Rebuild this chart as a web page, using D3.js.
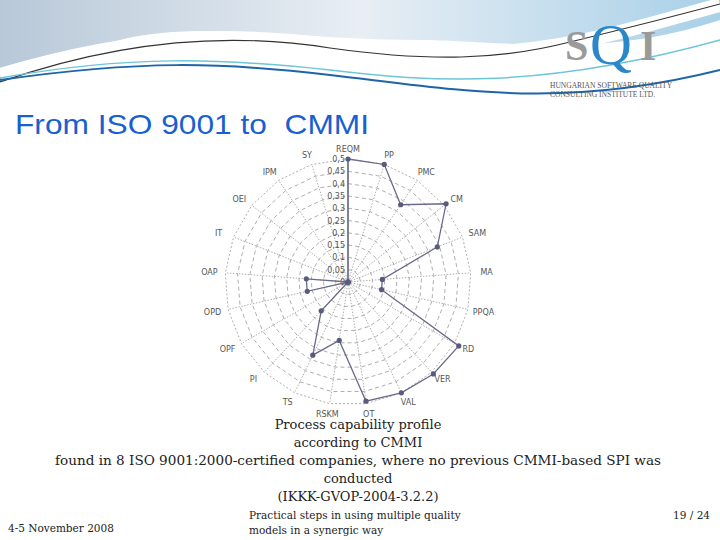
<!DOCTYPE html>
<html><head><meta charset="utf-8">
<script src="https://cdn.jsdelivr.net/npm/d3@7"></script>
<style>body{margin:0;background:#fff}svg{display:block}text{white-space:pre}</style></head>
<body><svg id="s" width="720" height="540"></svg>
<script>
const categories=["REQM","PP","PMC","CM","SAM","MA","PPQA","RD","VER","VAL","OT","RSKM","TS","PI","OPF","OPD","OAP","IT","OEI","IPM","SY"];
const values=[0.5,0.5,0.38,0.51,0.39,0.14,0.14,0.52,0.51,0.5,0.49,0.24,0.33,0.16,0,0.17,0.17,0,0,0,0];
const ticks=[0,0.05,0.1,0.15,0.2,0.25,0.3,0.35,0.4,0.45,0.5];
const tickLabels=["0","0,05","0,1","0,15","0,2","0,25","0,3","0,35","0,4","0,45","0,5"];

const svg=d3.select("#s");
const defs=svg.append("defs");
const g1=defs.append("linearGradient").attr("id","hg").attr("x1",0).attr("x2",1);
g1.append("stop").attr("offset",0).attr("stop-color","#b8c8d8");
g1.append("stop").attr("offset",0.5).attr("stop-color","#e8eef4");
g1.append("stop").attr("offset",1).attr("stop-color","#a8d0e8");
svg.append("path").attr("d","M0,0 H720 V20 C600,60 500,40 420,40 C300,40 200,20 120,40 C60,55 20,70 0,80 Z").attr("fill","url(#hg)");
svg.append("path").attr("d","M0,75 C150,30 250,35 330,45 C430,58 500,55 560,45 C620,35 680,15 720,5").attr("fill","none").attr("stroke","#fff").attr("stroke-width",14);
svg.append("path").attr("d","M0,82 C120,40 230,32 330,48 C430,62 500,60 570,42 C640,25 690,12 720,4").attr("fill","none").attr("stroke","#333").attr("stroke-width",1.2);
svg.append("path").attr("d","M0,78 C130,55 220,58 330,70 C430,82 540,90 720,40").attr("fill","none").attr("stroke","#6cc6d8").attr("stroke-width",1.5);
svg.append("path").attr("d","M0,80 C140,60 220,62 330,75 C460,90 560,110 720,70").attr("fill","none").attr("stroke","#1e64a8").attr("stroke-width",2);
svg.append("text").attr("x",565).attr("y",60).attr("font-family","Liberation Serif").attr("font-weight","bold").attr("font-size",42).attr("fill","#9a9a9a").text("S");
svg.append("text").attr("x",590).attr("y",64).attr("font-family","Liberation Serif").attr("font-size",58).attr("fill","#2a88c8").text("Q");
svg.append("text").attr("x",640).attr("y",60).attr("font-family","Liberation Serif").attr("font-weight","bold").attr("font-size",42).attr("fill","#9a9a9a").text("I");
svg.append("text").attr("x",550).attr("y",88).attr("font-family","Liberation Serif").attr("font-size",7.5).attr("fill","#555").text("HUNGARIAN SOFTWARE QUALITY");
svg.append("text").attr("x",550).attr("y",97).attr("font-family","Liberation Serif").attr("font-size",7.5).attr("fill","#555").text("CONSULTING INSTITUTE LTD.");
svg.append("text").attr("x",15).attr("y",134).attr("font-family","Liberation Sans").attr("font-size",28).attr("fill","#1a5fd0").attr("textLength",354).attr("lengthAdjust","spacingAndGlyphs").text("From ISO 9001 to  CMMI");

svg.append("rect").attr("x",185).attr("y",140).attr("width",330).attr("height",276).attr("fill","#fff");
const cx=348,cy=282,R=123,n=categories.length;
const r=d3.scaleLinear().domain([0,0.5]).range([0,R]);
const ang=d3.scaleLinear().domain([0,n]).range([0,2*Math.PI]);
const pt=(i,v)=>[cx+r(v)*Math.sin(ang(i)),cy-r(v)*Math.cos(ang(i))];
const g=svg.append("g");
ticks.slice(1).forEach(t=>{
  g.append("path").attr("d",d3.line()(d3.range(n+1).map(i=>pt(i%n,t)))).attr("fill","none")
   .attr("stroke","#999").attr("stroke-width",0.8).attr("stroke-dasharray",t===0.5?"2,2":"4,3");
});
d3.range(n).forEach(i=>{
  if(i===0)return;
  g.append("line").attr("x1",cx).attr("y1",cy).attr("x2",pt(i,0.5)[0]).attr("y2",pt(i,0.5)[1]).attr("stroke","#999").attr("stroke-width",0.8).attr("stroke-dasharray","1.5,1.5");
});
g.append("line").attr("x1",cx).attr("y1",cy).attr("x2",cx).attr("y2",cy-R).attr("stroke","#777").attr("stroke-width",1.2);
ticks.forEach((t,k)=>g.append("text").attr("x",cx-3).attr("y",cy-r(t)+3).attr("text-anchor","end").attr("font-family","DejaVu Sans").attr("font-size",8).attr("fill","#555").text(tickLabels[k]));
categories.forEach((c,i)=>{
  const a=ang(i),p=[cx+(R+10)*Math.sin(a),cy-(R+10)*Math.cos(a)];
  g.append("text").attr("x",p[0]+(i===0?0:Math.sin(a)*6)).attr("y",p[1]+3).attr("text-anchor","middle").attr("font-family","DejaVu Sans").attr("font-size",8).attr("fill","#555").text(c);
});
g.append("path").attr("d",d3.line()(values.map((v,i)=>pt(i,v)).concat([pt(0,values[0])]))).attr("fill","none").attr("stroke","#6a6a8a").attr("stroke-width",1.3);
values.forEach((v,i)=>{const p=pt(i,v);g.append("circle").attr("cx",p[0]).attr("cy",p[1]).attr("r",2.6).attr("fill","#5a5a7e");});

const cap=["Process capability profile","according to CMMI","found in 8 ISO 9001:2000-certified companies, where no previous CMMI-based SPI was","conducted","(IKKK-GVOP-2004-3.2.2)"];
cap.forEach((t,k)=>{const tx=svg.append("text").attr("x",358).attr("y",429+k*18).attr("text-anchor","middle").attr("font-family","DejaVu Serif").attr("font-size",13).attr("fill","#222").text(t);
  if(k===2)tx.attr("textLength",606).attr("lengthAdjust","spacingAndGlyphs");});
const ft=(x,y,t,a)=>svg.append("text").attr("x",x).attr("y",y).attr("text-anchor",a||"start").attr("font-family","DejaVu Serif").attr("font-size",10.5).attr("fill","#222").text(t);
ft(8,532,"4-5 November 2008");
ft(249,519,"Practical steps in using multiple quality");
ft(249,534,"models in a synergic way");
ft(710,519,"19 / 24","end");
</script></body></html>
